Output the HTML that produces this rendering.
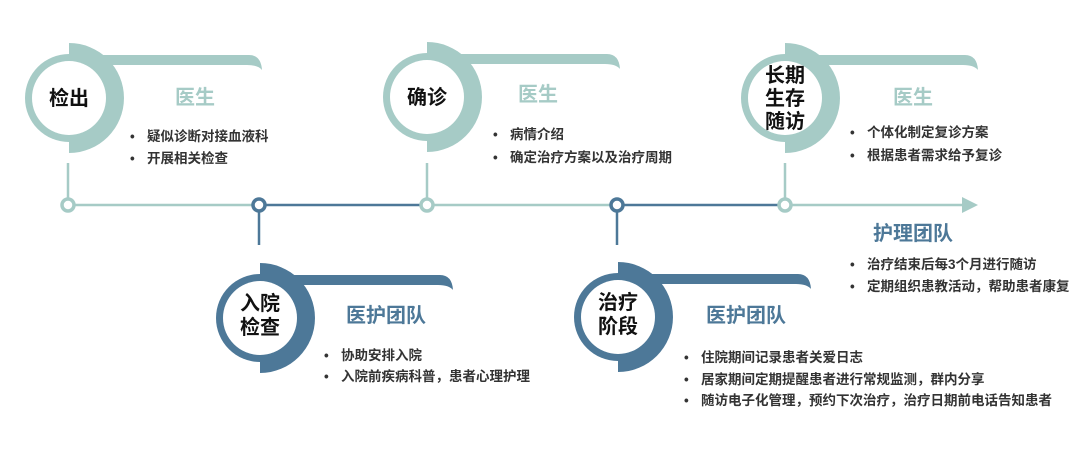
<!DOCTYPE html>
<html><head><meta charset="utf-8"><style>
html,body{margin:0;padding:0;background:#fff;}
svg text{font-family:"Liberation Sans","Noto Sans CJK SC",sans-serif;font-weight:bold;}
</style></head><body>
<svg width="1080" height="449" viewBox="0 0 1080 449" xmlns="http://www.w3.org/2000/svg">
<defs>
<g id="shape">
  <circle cx="0" cy="0" r="44"/>
  <path d="M0,-55 A55,55 0 0 1 0,55 Z"/>
  <path d="M0,-43 L180,-43 Q192,-43 193,-28 Q189,-33 178,-33 L0,-33 Z"/>
  <circle cx="0" cy="0" r="37" fill="#fff"/>
</g>
</defs>
<g stroke-width="2.5">
<line x1="68" y1="205" x2="259" y2="205" stroke="#a6cbc6"/>
<line x1="259" y1="205" x2="427" y2="205" stroke="#4d7898"/>
<line x1="427" y1="205" x2="617" y2="205" stroke="#a6cbc6"/>
<line x1="617" y1="205" x2="785" y2="205" stroke="#4d7898"/>
<line x1="785" y1="205" x2="965" y2="205" stroke="#a6cbc6"/>
<line x1="68" y1="163" x2="68" y2="198" stroke="#a6cbc6"/>
<line x1="427" y1="163" x2="427" y2="198" stroke="#a6cbc6"/>
<line x1="785" y1="163" x2="785" y2="198" stroke="#a6cbc6"/>
<line x1="259" y1="212" x2="259" y2="245" stroke="#4d7898"/>
<line x1="617" y1="212" x2="617" y2="245" stroke="#4d7898"/>
</g>
<polygon points="962,197 978,205 962,213" fill="#a6cbc6"/>
<g stroke-width="3.5" fill="#fff">
<circle cx="68" cy="205" r="6" stroke="#a6cbc6"/>
<circle cx="259" cy="205" r="6" stroke="#4d7898"/>
<circle cx="427" cy="205" r="6" stroke="#a6cbc6"/>
<circle cx="617" cy="205" r="6" stroke="#4d7898"/>
<circle cx="785" cy="205" r="6" stroke="#a6cbc6"/>
</g>
<use href="#shape" transform="translate(69,98)" fill="#a6cbc6"/>
<use href="#shape" transform="translate(427,97)" fill="#a6cbc6"/>
<use href="#shape" transform="translate(785,98)" fill="#a6cbc6"/>
<use href="#shape" transform="translate(260,318)" fill="#4d7898"/>
<use href="#shape" transform="translate(618,317)" fill="#4d7898"/>

<g font-size="20" fill="#111" text-anchor="middle">
<text x="69" y="105">检出</text>
<text x="427" y="104">确诊</text>
<text x="785" y="82">长期</text>
<text x="785" y="105">生存</text>
<text x="785" y="128">随访</text>
<text x="260" y="310">入院</text>
<text x="260" y="334">检查</text>
<text x="618" y="309">治疗</text>
<text x="618" y="333">阶段</text>
</g>

<g font-size="20" text-anchor="middle">
<text x="195" y="104" fill="#a6cbc6">医生</text>
<text x="538" y="101" fill="#a6cbc6">医生</text>
<text x="913" y="104" fill="#a6cbc6">医生</text>
<text x="386" y="322" fill="#4d7898">医护团队</text>
<text x="746" y="322" fill="#4d7898">医护团队</text>
<text x="913" y="240" fill="#4d7898">护理团队</text>
</g>

<g font-size="13.5" fill="#333">
<text x="130" y="141">•</text><text x="147" y="141">疑似诊断对接血液科</text>
<text x="130" y="163">•</text><text x="147" y="163">开展相关检查</text>
<text x="493" y="139">•</text><text x="510" y="139">病情介绍</text>
<text x="493" y="162">•</text><text x="510" y="162">确定治疗方案以及治疗周期</text>
<text x="850" y="137">•</text><text x="867" y="137">个体化制定复诊方案</text>
<text x="850" y="160">•</text><text x="867" y="160">根据患者需求给予复诊</text>
<text x="850" y="269">•</text><text x="867" y="269">治疗结束后每3个月进行随访</text>
<text x="850" y="291">•</text><text x="867" y="291">定期组织患教活动，帮助患者康复</text>
<text x="324" y="360">•</text><text x="341" y="360">协助安排入院</text>
<text x="324" y="381">•</text><text x="341" y="381">入院前疾病科普，患者心理护理</text>
<text x="684" y="362">•</text><text x="701" y="362">住院期间记录患者关爱日志</text>
<text x="684" y="384">•</text><text x="701" y="384">居家期间定期提醒患者进行常规监测，群内分享</text>
<text x="684" y="405">•</text><text x="701" y="405">随访电子化管理，预约下次治疗，治疗日期前电话告知患者</text>
</g>
</svg>
</body></html>
